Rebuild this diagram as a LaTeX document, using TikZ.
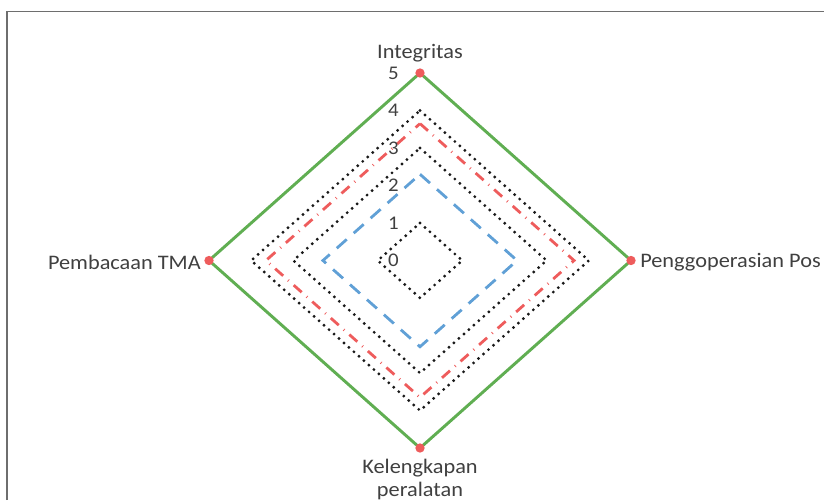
\documentclass[tikz,border=0pt]{standalone}
\usepackage{fontspec}
\setmainfont{Carlito}[FakeStretch=1.08]
\definecolor{txt}{RGB}{64,64,64}
\definecolor{grn}{RGB}{96,174,82}
\definecolor{redd}{RGB}{238,92,92}
\definecolor{blu}{RGB}{96,160,214}
\definecolor{frame}{RGB}{110,110,110}
\newcommand\rdiam[2]{\draw[#1] (420,{260.5-37.5*#2}) -- ({420+42.2*#2},260.5) -- (420,{260.5+37.5*#2}) -- ({420-42.2*#2},260.5) -- cycle;}
\begin{document}
\begin{tikzpicture}[x=0.75pt,y=-0.75pt,
  lbl/.style={text=txt,font=\fontsize{15.5}{17}\selectfont,inner sep=0pt},
  tick/.style={text=txt,font=\fontsize{14.5}{16}\selectfont,inner sep=0pt,anchor=east},
  dotline/.style={black!90,line width=2.4pt,line cap=round,dash pattern=on 0pt off 5pt},
  dashdotline/.style={redd,line width=2.1pt,dash pattern=on 8pt off 5pt on 0.6pt off 5pt},
  dashline/.style={blu,line width=2.1pt,dash pattern=on 10pt off 7pt},
  solidline/.style={grn,line width=2.2pt,line join=miter},
  vdot/.style={circle,fill=redd,inner sep=0pt,minimum size=7pt}]
\useasboundingbox (0,0) rectangle (824,500);
\draw[frame,line width=0.8pt] (7,500) -- (7,11.5) -- (824,11.5);
% series
\rdiam{dotline}{1}
\rdiam{dashline}{2.3}
\rdiam{dotline}{3}
\rdiam{dashdotline}{3.65}
\rdiam{dotline}{4}
\rdiam{solidline}{5}
% vertex markers
\coordinate (t) at (420,73);
\coordinate (r) at (631,260.5);
\coordinate (b) at (420,448);
\coordinate (l) at (209,260.5);
\node[vdot] at (t) {};
\node[vdot] at (r) {};
\node[vdot] at (b) {};
\node[vdot] at (l) {};
% tick labels
\foreach \k in {0,...,5} {
  \node[tick] (tk\k) at (399,{260.5-37.5*\k}) {\k};
}
% axis labels
\node[lbl,anchor=base] (integ) at (420,58) {Integritas};
\node[lbl,anchor=west] (peng) at (640,262) {Penggoperasian Pos};
\node[lbl,anchor=east] (pemb) at (201,262) {Pembacaan TMA};
\node[lbl,anchor=north,align=center] (kel) at (420,459) {Kelengkapan\\peralatan};
\end{tikzpicture}
\end{document}
